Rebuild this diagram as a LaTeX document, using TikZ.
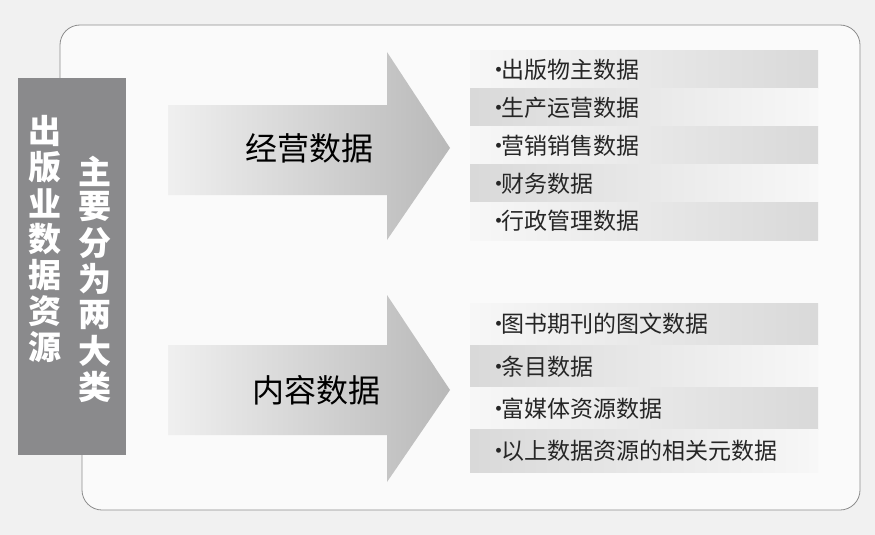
\documentclass[tikz,border=0pt]{standalone}
\usepackage{fontspec}
\setmainfont{Noto Sans CJK SC}
\definecolor{bgcol}{HTML}{F1F1F1}
\definecolor{boxcol}{HTML}{8A8A8C}
\definecolor{framecol}{HTML}{8C8C8C}

\begin{document}
\begin{tikzpicture}[
            x=1pt, y=-1pt,
            bigarrow/.style={
                left color=gray!12,
                right color=gray!55,
                draw=none
            },
            barlr/.style={
                left color=gray!6,
                right color=gray!30,
                draw=none
            },
            barrl/.style={
                left color=gray!30,
                right color=gray!6,
                draw=none
            },
            item/.style={
                anchor=west,
                inner sep=0pt,
                font=\fontsize{23}{23}\selectfont,
                text=black!85
            },
            vchar/.style={
                font=\fontsize{33}{33}\selectfont\bfseries,
                text=white
            }
        ]
        \fill[bgcol] (0,0) rectangle (875,535);
        \draw[framecol, thick, fill=gray!4] (60,80) -- (60,45) arc[start angle=180, end angle=270, radius=20]
            -- (840,25) arc[start angle=270, end angle=360, radius=20]
            -- (860,490) arc[start angle=0, end angle=90, radius=20]
            -- (102,510) arc[start angle=90, end angle=180, radius=20] -- (82,455);
        % left box
        \fill[boxcol] (18,78) rectangle (126,455);
        \foreach \c [count=\i] in {出,版,业,数,据,资,源}
            \node[vchar] (l\i) at (45,95+36*\i) {\c};
        \foreach \c [count=\i] in {主,要,分,为,两,大,类}
            \node[vchar] (r\i) at (95,135+36*\i) {\c};
        % arrows
        \path[bigarrow] (168,105) -- (387,105) -- (387,52) -- (450,148) -- (387,240)
            -- (387,195) -- (168,195) -- cycle;
        \path[bigarrow] (168,345) -- (387,345) -- (387,295) -- (450,390) -- (387,482)
            -- (387,435) -- (168,435) -- cycle;
        \node[font=\fontsize{32}{32}\selectfont] (jy) at (309,148) {经营数据};
        \node[font=\fontsize{32}{32}\selectfont] (nr) at (316,390) {内容数据};
        % top list
        \foreach \t [count=\i] in {出版物主数据,生产运营数据,营销销售数据,财务数据,行政管理数据}{
            \pgfmathsetmacro{\ya}{51+37.8*(\i-1)}
            \pgfmathsetmacro{\yb}{51+37.8*\i}
            \ifodd\i \path[barlr] (470,\ya) rectangle (818,\yb);
            \else \path[barrl] (470,\ya) rectangle (818,\yb); \fi
            \node[item] (a\i) at (487,{(\ya+\yb)/2}) {·\kern-0.4em\t};
        }
        % bottom list
        \foreach \t [count=\i] in {图书期刊的图文数据,条目数据,富媒体资源数据,以上数据资源的相关元数据}{
            \pgfmathsetmacro{\ya}{303+42.3*(\i-1)}
            \pgfmathsetmacro{\yb}{303+42.3*\i}
            \ifodd\i \path[barlr] (470,\ya) rectangle (818,\yb);
            \else \path[barrl] (470,\ya) rectangle (818,\yb); \fi
            \node[item] (b\i) at (487,{(\ya+\yb)/2}) {·\kern-0.4em\t};
        }
        \end{tikzpicture}
\end{document}
